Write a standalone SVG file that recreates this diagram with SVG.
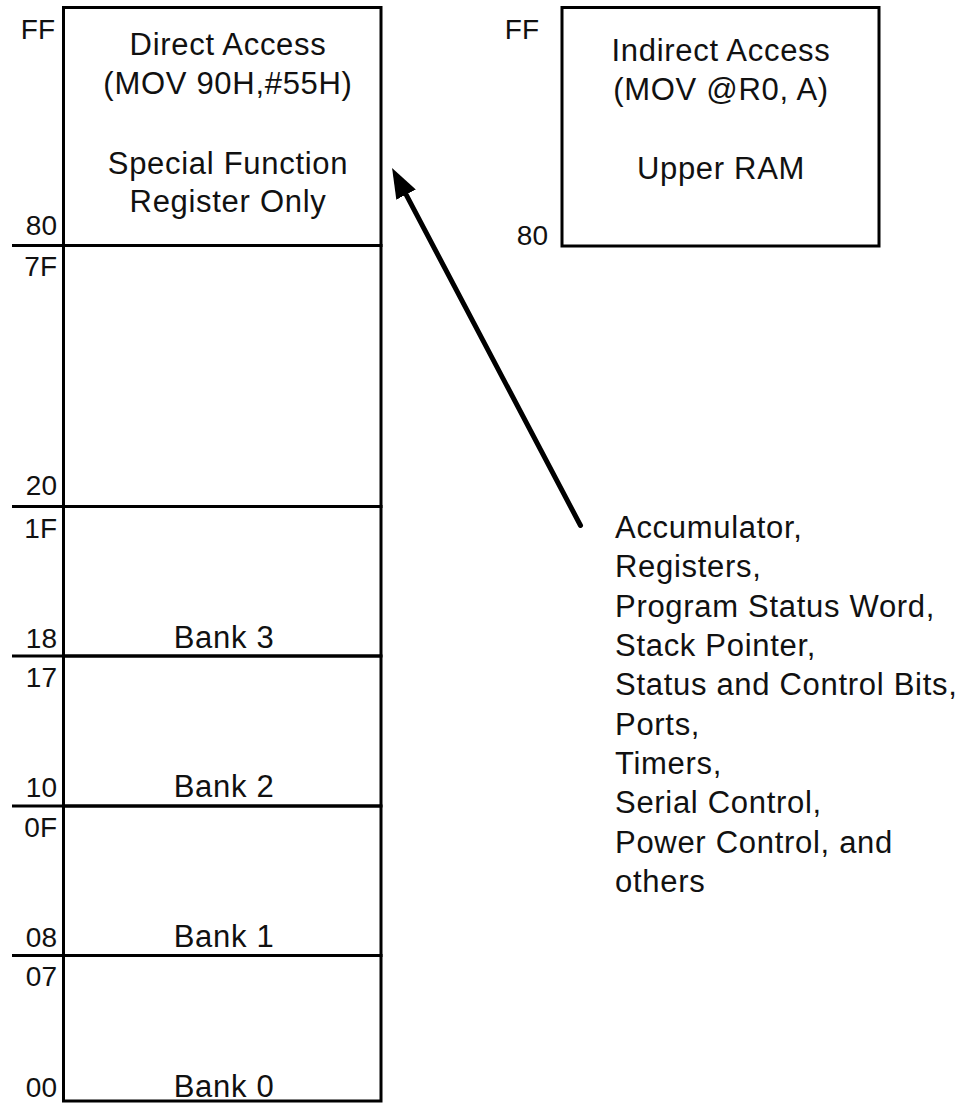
<svg xmlns="http://www.w3.org/2000/svg" width="967" height="1103" viewBox="0 0 967 1103">
<style>
.box{fill:none;stroke:#000;stroke-width:3}
.div{stroke:#000;stroke-width:3}
.t{font-family:"Liberation Sans",Arial,sans-serif;font-size:31px;letter-spacing:0.7px;fill:#111}
.c{text-anchor:middle}
.a{font-family:"Liberation Sans",Arial,sans-serif;font-size:28px;fill:#111;text-anchor:end}
.conn{stroke:#000;stroke-width:5;stroke-linecap:round;fill:none}
</style>
<defs>
<marker id="ah" markerUnits="userSpaceOnUse" viewBox="0 0 30 22" refX="10" refY="11" markerWidth="30" markerHeight="22" orient="auto">
<path d="M0,0 L30,11 L0,22 z" fill="#000"/>
</marker>
</defs>
<rect width="967" height="1103" fill="#fff"/>
<g id="sfr">
<rect class="box" x="63.5" y="7.5" width="317.5" height="238"/>
<text class="t c" x="228" y="55">Direct Access</text>
<text class="t c" x="228" y="94">(MOV 90H,#55H)</text>
<text class="t c" x="228" y="174">Special Function</text>
<text class="t c" x="228" y="212">Register Only</text>
<text class="a" x="55" y="39">FF</text>
<text class="a" x="57" y="235">80</text>
</g>
<g id="general">
<rect class="box" x="63.5" y="245.5" width="317.5" height="261"/>
<text class="a" x="57" y="276">7F</text>
<text class="a" x="57" y="495">20</text>
</g>
<g id="bank3">
<rect class="box" x="63.5" y="506.5" width="317.5" height="149.5"/>
<text class="a" x="57" y="538">1F</text>
<text class="a" x="57" y="648">18</text>
<text class="t c" x="224" y="648">Bank 3</text>
</g>
<g id="bank2">
<rect class="box" x="63.5" y="656" width="317.5" height="150"/>
<text class="a" x="57" y="687">17</text>
<text class="a" x="57" y="797">10</text>
<text class="t c" x="224" y="797">Bank 2</text>
</g>
<g id="bank1">
<rect class="box" x="63.5" y="806" width="317.5" height="149.5"/>
<text class="a" x="57" y="837">0F</text>
<text class="a" x="57" y="947">08</text>
<text class="t c" x="224" y="947">Bank 1</text>
</g>
<g id="bank0">
<rect class="box" x="63.5" y="955.5" width="317.5" height="145.5"/>
<text class="a" x="57" y="986">07</text>
<text class="a" x="57" y="1097">00</text>
<text class="t c" x="224" y="1097">Bank 0</text>
</g>
<g id="dividers">
<line class="div" x1="12" y1="245.5" x2="64" y2="245.5"/>
<line class="div" x1="12" y1="506.5" x2="64" y2="506.5"/>
<line class="div" x1="12" y1="656" x2="64" y2="656"/>
<line class="div" x1="12" y1="806" x2="64" y2="806"/>
<line class="div" x1="12" y1="955.5" x2="64" y2="955.5"/>
</g>
<g id="upper-ram">
<rect class="box" x="562" y="7.5" width="317" height="238.5"/>
<text class="t c" x="721" y="61">Indirect Access</text>
<text class="t c" x="721" y="100">(MOV @R0, A)</text>
<text class="t c" x="721" y="179">Upper RAM</text>
<text class="a" x="539" y="39">FF</text>
<text class="a" x="548" y="245">80</text>
</g>
<g id="sfr-list">
<text class="t" x="615" y="538">Accumulator,</text>
<text class="t" x="615" y="577">Registers,</text>
<text class="t" x="615" y="617">Program Status Word,</text>
<text class="t" x="615" y="656">Stack Pointer,</text>
<text class="t" x="615" y="695">Status and Control Bits,</text>
<text class="t" x="615" y="735">Ports,</text>
<text class="t" x="615" y="774">Timers,</text>
<text class="t" x="615" y="813">Serial Control,</text>
<text class="t" x="615" y="853">Power Control, and</text>
<text class="t" x="615" y="892">others</text>
</g>
<g id="connectors">
<line class="conn" x1="580.5" y1="525.5" x2="401.4" y2="185.7" marker-end="url(#ah)"/>
</g>
</svg>
